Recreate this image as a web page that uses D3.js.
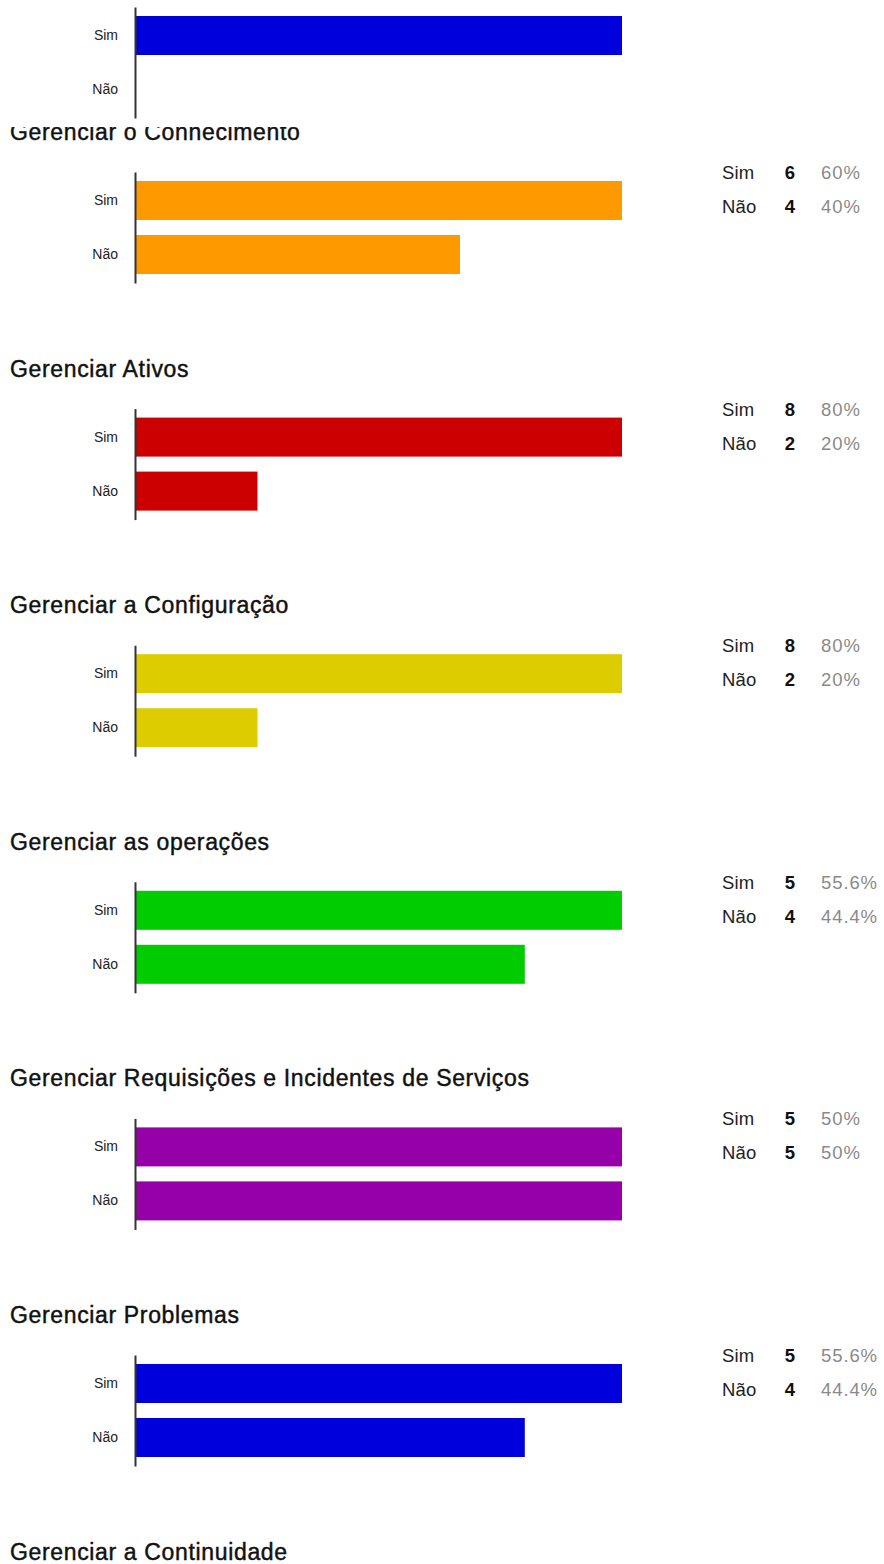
<!DOCTYPE html>
<html><head><meta charset="utf-8">
<script src="https://d3js.org/d3.v7.min.js"></script>
<style>html,body{margin:0;padding:0;background:#fff;} svg{display:block;font-family:"Liberation Sans",Arial,sans-serif;}</style>
</head><body>
<div id="chart"></div>
<script>
const categories = ["Sim", "Não"];
const titles = [
  null,
  "Gerenciar o Conhecimento",
  "Gerenciar Ativos",
  "Gerenciar a Configuração",
  "Gerenciar as operações",
  "Gerenciar Requisições e Incidentes de Serviços",
  "Gerenciar Problemas",
  "Gerenciar a Continuidade"
];
const simValues = [10, 6, 8, 8, 5, 5, 5];
const naoValues = [0, 4, 2, 2, 4, 5, 4];
const colors = ["#0000dc", "#ff9900", "#cc0000", "#dccc00", "#00cc00", "#9600a8", "#0000dc"];
const showLegend = [false, true, true, true, true, true, true];

const W = 884, H = 1564;
const svg = d3.select("#chart").append("svg").attr("width", W).attr("height", H);

const x0 = 135, barMax = 486;
function panelTop(i) { return i === 0 ? 16 : 181 + (i - 1) * 236.6; }
const pctFmt = v => (Math.round(v * 10) / 10).toString() + "%";

function drawTitle(i) {
  if (!titles[i]) return;
  svg.append("text")
    .attr("x", 10).attr("y", panelTop(i) - 41)
    .attr("font-size", 23).attr("fill", "#111")
    .attr("stroke", "#111").attr("stroke-width", 0.45)
    .attr("letter-spacing", 0.65)
    .text(titles[i]);
}

function drawPanel(i) {
  const top = panelTop(i);
  const vals = [simValues[i], naoValues[i]];
  const data = categories.map((c, k) => ({ c, v: vals[k] }));
  const x = d3.scaleLinear().domain([0, d3.max(vals)]).range([x0 + 1, x0 + 1 + barMax]);
  const y = d3.scaleBand().domain(categories).range([top - 9, top + 102])
    .paddingInner(15 / 54).paddingOuter(1 / 6);
  const g = svg.append("g");
  g.selectAll("rect").data(data).join("rect")
    .attr("x", x(0)).attr("y", d => y(d.c))
    .attr("width", d => x(d.v) - x(0)).attr("height", y.bandwidth())
    .attr("fill", colors[i]);
  const ax = g.append("g").attr("transform", `translate(${x0},0)`)
    .call(d3.axisLeft(y).tickSize(0).tickPadding(17).tickSizeOuter(0));
  ax.select(".domain").attr("stroke", "#333").attr("stroke-width", 2);
  ax.selectAll("text").attr("font-size", 14).attr("fill", "#222")
    .attr("font-family", '"Liberation Sans",Arial,sans-serif');

  if (showLegend[i]) {
    const total = d3.sum(vals);
    const lg = svg.append("g").attr("font-size", 18.5);
    data.forEach((d, k) => {
      const by = top - 2 + k * 34;
      lg.append("text").attr("x", 722).attr("y", by).attr("fill", "#222")
        .attr("letter-spacing", 0.2).text(d.c);
      lg.append("text").attr("x", 790).attr("y", by).attr("text-anchor", "middle")
        .attr("font-weight", "bold").attr("fill", "#111").text(d.v);
      lg.append("text").attr("x", 821).attr("y", by).attr("fill", "#8a8a8a")
        .attr("letter-spacing", 0.9).text(pctFmt(d.v / total * 100));
    });
  }
}

for (let i = 1; i < titles.length; i++) drawTitle(i);
for (let i = 1; i < simValues.length; i++) drawPanel(i);
// the first panel is a separate cut that covers the top of the next title
svg.append("rect").attr("x", 0).attr("y", 0).attr("width", W).attr("height", 127).attr("fill", "#fff");
drawPanel(0);
</script>
</body></html>
